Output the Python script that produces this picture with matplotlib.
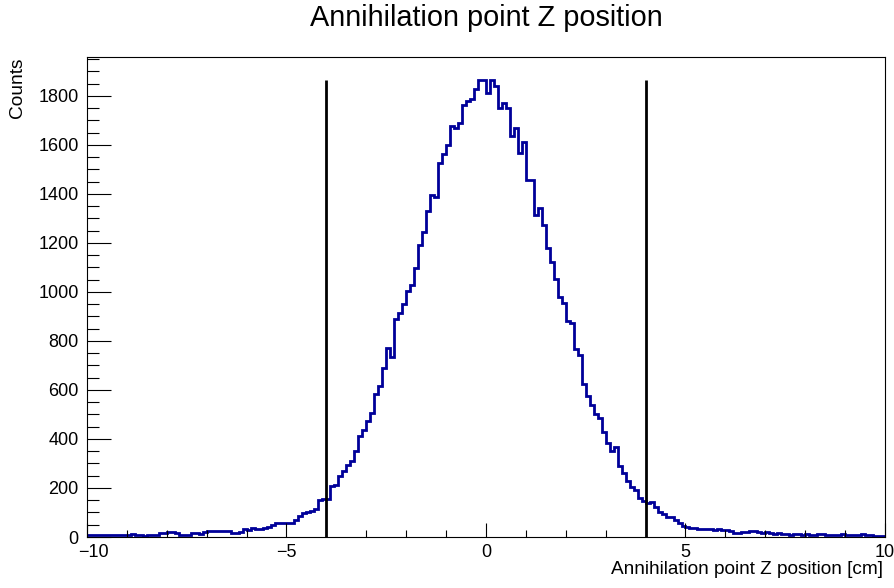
import numpy as np
import matplotlib
matplotlib.use('Agg')
import matplotlib.pyplot as plt
from matplotlib.ticker import MultipleLocator, FuncFormatter

plt.rcParams['font.family'] = ['Liberation Sans', 'DejaVu Sans']

# histogram: 200 bins from -10 to 10 cm
edges = np.linspace(-10, 10, 201)
counts = [
    7, 8, 10, 9, 7, 8, 7, 9, 8, 7, 10, 12, 7, 7, 6, 7, 8, 7, 17, 16,
    20, 20, 15, 10, 10, 9, 15, 17, 12, 22,
    24, 24, 25, 24, 23, 24, 18, 18, 22, 33,
    29, 37, 33, 33, 35, 42, 50, 57, 58, 58,
    57, 59, 71, 85, 98, 100, 105, 115, 150, 156,
    157, 210, 211, 248, 268, 292, 312, 350, 414, 436,
    473, 505, 582, 617, 688, 772, 734, 891, 913, 952,
    1004, 1028, 1099, 1190, 1246, 1328, 1396, 1389, 1524, 1562,
    1600, 1675, 1667, 1691, 1763, 1780, 1786, 1827, 1865, 1865,
    1810, 1865, 1839, 1752, 1769, 1750, 1635, 1668, 1565, 1611,
    1456, 1456, 1313, 1344, 1272, 1181, 1122, 1054, 978, 953,
    883, 873, 765, 741, 623, 575, 538, 500, 487, 428,
    384, 350, 368, 289, 260, 230, 203, 193, 159, 146,
    138, 141, 121, 104, 92, 80, 80, 68, 58, 44,
    41, 36, 36, 33, 33, 31, 31, 28, 33, 28,
    28, 24, 17, 17, 20, 22, 26, 24, 22, 17,
    22, 17, 14, 17, 12, 12, 10, 12, 12, 10,
    12, 10, 10, 12, 12, 10, 7, 7, 10, 12,
    10, 7, 7, 7, 12, 10, 7, 6, 6, 5,
]
cut_positions = [-4, 4]

fig = plt.figure(figsize=(8.95, 5.88), dpi=100)
ax = fig.add_axes([87 / 895, 51 / 588, 798 / 895, 480 / 588])

ax.stairs(counts, edges, baseline=None, color='#000099', lw=2)
for xc in cut_positions:
    ax.vlines(xc, 0, max(counts), color='black', lw=2)

ax.set_xlim(-10, 10)
ax.set_ylim(0, 1.05 * max(counts))

ax.xaxis.set_major_locator(MultipleLocator(5))
ax.xaxis.set_minor_locator(MultipleLocator(1))
ax.yaxis.set_major_locator(MultipleLocator(200))
ax.yaxis.set_minor_locator(MultipleLocator(50))

# the "-10" label is drawn separately, nudged right so it clears the "0"
ax.xaxis.set_major_formatter(FuncFormatter(
    lambda v, p: '' if v <= -10 else f'{v:g}'.replace('-', '\u2212')))
ax.annotate('\u221210', xy=(-10, 0), xycoords=('data', 'axes fraction'),
            xytext=(4.5, -5), textcoords='offset points',
            ha='center', va='top', fontsize=13)

ax.tick_params(axis='both', which='both', direction='in', width=0.8,
               top=False, right=False, labelsize=13)
ax.tick_params(axis='y', which='major', length=17, pad=6)
ax.tick_params(axis='y', which='minor', length=8.5)
ax.tick_params(axis='x', which='major', length=10, pad=5)
ax.tick_params(axis='x', which='minor', length=5)
for s in ax.spines.values():
    s.set_linewidth(0.8)

fig.text(486 / 895, 1 - 18 / 588, 'Annihilation point Z position',
         ha='center', va='center', fontsize=20.8)
fig.text(883 / 895, 1 - 570 / 588, 'Annihilation point Z position [cm]',
         ha='right', va='center', fontsize=13.7)
fig.text(18 / 895, 1 - 57 / 588, 'Counts', rotation=90,
         ha='center', va='top', fontsize=13.8)

fig.savefig('out.png', dpi=100)
